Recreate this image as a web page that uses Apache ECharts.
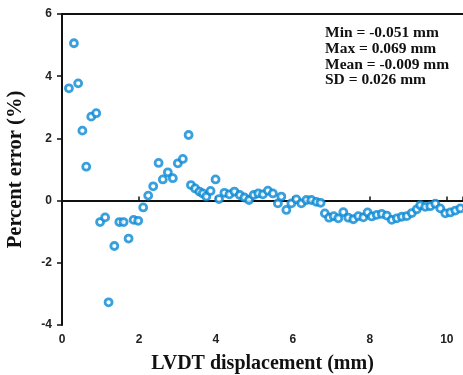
<!DOCTYPE html>
<html>
<head>
<meta charset="utf-8">
<script src="https://cdn.jsdelivr.net/npm/echarts@6/dist/echarts.min.js"></script>
<style>
  html, body { margin: 0; padding: 0; background: #fff; }
  #chart { width: 463px; height: 375px; }
</style>
</head>
<body>
<div id="chart"></div>
<script>
// LVDT displacement (mm) and the corresponding percent error (%)
const displacement = [0.18,0.31,0.42,0.53,0.63,0.76,0.89,0.99,1.12,1.21,1.36,1.49,1.60,1.73,1.86,1.98,2.11,2.24,2.37,2.51,2.62,2.75,2.88,3.01,3.14,3.29,3.35,3.46,3.57,3.66,3.75,3.86,3.99,4.08,4.22,4.35,4.48,4.62,4.74,4.86,4.98,5.10,5.22,5.35,5.48,5.61,5.70,5.83,5.96,6.09,6.22,6.35,6.48,6.61,6.72,6.83,6.94,7.06,7.18,7.31,7.44,7.57,7.70,7.83,7.94,8.05,8.18,8.31,8.44,8.57,8.70,8.83,8.96,9.09,9.22,9.31,9.44,9.57,9.70,9.83,9.96,10.09,10.22,10.35];
const percentError = [3.61,5.06,3.77,2.25,1.09,2.70,2.81,-0.69,-0.54,-3.27,-1.46,-0.69,-0.69,-1.22,-0.62,-0.65,-0.22,0.16,0.46,1.21,0.68,0.91,0.72,1.20,1.34,2.11,0.50,0.39,0.29,0.23,0.13,0.31,0.68,0.05,0.25,0.20,0.29,0.18,0.10,0.02,0.18,0.23,0.20,0.32,0.23,-0.09,0.13,-0.30,-0.09,0.04,-0.09,0.02,0.02,-0.04,-0.07,-0.41,-0.55,-0.50,-0.57,-0.37,-0.55,-0.60,-0.50,-0.54,-0.38,-0.51,-0.46,-0.43,-0.48,-0.62,-0.57,-0.52,-0.50,-0.40,-0.28,-0.15,-0.20,-0.18,-0.10,-0.25,-0.41,-0.38,-0.32,-0.25];

// Axis ranges and tick labels
const xRange = [0, 10.42];
const xTicks = [0, 2, 4, 6, 8, 10];
const yRange = [-4, 6];
const yTicks = [-4, -2, 0, 2, 4, 6];

// Summary statistics printed in the upper right
const statsLines = ['Min = -0.051 mm', 'Max = 0.069 mm', 'Mean = -0.009 mm', 'SD = 0.026 mm'];

const xTitle = 'LVDT displacement (mm)';
const yTitle = 'Percent error (%)';

const points = displacement.map((x, i) => [x, percentError[i]]);

const serif = '"Liberation Serif", "Times New Roman", serif';
const sans = '"Liberation Sans", Arial, sans-serif';

const chart = echarts.init(document.getElementById('chart'), null, { renderer: 'canvas' });

chart.setOption({
  animation: false,
  backgroundColor: '#ffffff',
  grid: { left: 62, top: 14, right: 0, bottom: 50, containLabel: false, outerBoundsMode: 'none' },
  xAxis: [{
    type: 'value',
    min: xRange[0], max: xRange[1], interval: 2,
    splitLine: { show: false },
    axisLine: { lineStyle: { color: '#111', width: 2 } },
    axisTick: { inside: true, length: 4, lineStyle: { color: '#111', width: 1.5 } },
    axisLabel: {
      color: '#222', fontFamily: sans, fontWeight: 'bold', fontSize: 12, margin: 9,
      formatter: v => xTicks.includes(v) ? String(v) : ''
    },
    name: xTitle, nameLocation: 'middle', nameGap: 29,
    nameTextStyle: { fontFamily: serif, fontWeight: 'bold', fontSize: 20, color: '#111' }
  }, {
    type: 'value', position: 'top',
    min: xRange[0], max: xRange[1],
    axisLine: { show: true, lineStyle: { color: '#111', width: 2 } },
    axisTick: { show: false }, axisLabel: { show: false }, splitLine: { show: false }
  }],
  yAxis: {
    type: 'value',
    min: yRange[0], max: yRange[1], interval: 2,
    splitLine: { show: false },
    axisLine: { lineStyle: { color: '#111', width: 2 } },
    axisTick: { inside: false, length: 5, lineStyle: { color: '#111', width: 1.5 } },
    axisLabel: {
      color: '#222', fontFamily: sans, fontWeight: 'bold', fontSize: 12, margin: 10,
      formatter: v => yTicks.includes(v) ? String(v) : ''
    },
    name: yTitle, nameLocation: 'middle', nameGap: 36, nameRotate: 90,
    nameTextStyle: { fontFamily: serif, fontWeight: 'bold', fontSize: 20.5, color: '#111' }
  },
  series: [{
    type: 'scatter',
    data: points,
    symbol: 'circle',
    symbolSize: 7,
    itemStyle: { color: '#ffffff', borderColor: '#0788d4', borderWidth: 2.8 },
    markLine: {
      silent: true, symbol: 'none', label: { show: false },
      lineStyle: { color: '#111', width: 1.5, type: 'solid' },
      data: [{ yAxis: 0 }],
      z: 1
    },
    z: 3
  }],
  graphic: statsLines.map((t, i) => ({
    type: 'text',
    left: 325,
    top: 25 + i * 15.8,
    style: { text: t, fontFamily: serif, fontWeight: 'bold', fontSize: 15.5, fill: '#111' }
  }))
});
</script>
</body>
</html>
